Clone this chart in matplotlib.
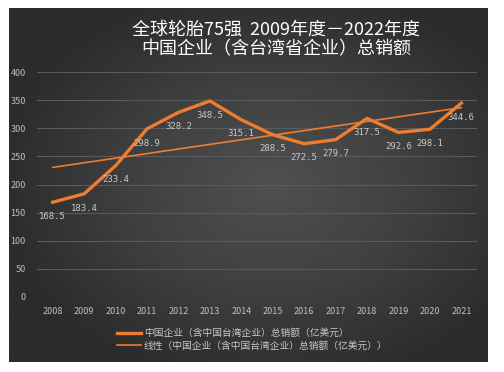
import numpy as np
import matplotlib
matplotlib.use("Agg")
import matplotlib.pyplot as plt
from matplotlib.colors import LinearSegmentedColormap

plt.rcParams['font.family'] = ['Noto Sans CJK SC', 'DejaVu Sans']

years = ['2008', '2009', '2010', '2011', '2012', '2013', '2014', '2015',
         '2016', '2017', '2018', '2019', '2020', '2021']
sales = [168.5, 183.4, 233.4, 298.9, 328.2, 348.5, 315.1, 288.5,
         272.5, 279.7, 317.5, 292.6, 298.1, 344.6]
labels = ['168.5', '183.4', '233.4', '298.9', '328.2', '348.5', '315.1', '288.5',
          '272.5', '279.7', '317.5', '292.6', '298.1', '344.6']
title = '全球轮胎75强  2009年度－2022年度\n中国企业（含台湾省企业）总销额'
series_name = '中国企业（含中国台湾企业）总销额（亿美元）'
trend_name = '线性（中国企业（含中国台湾企业）总销额（亿美元））'
yticks = [0, 50, 100, 150, 200, 250, 300, 350, 400]

fig = plt.figure(figsize=(5.04, 3.72), dpi=100)
fig.patch.set_facecolor('white')

# dark gradient panel
bg = fig.add_axes([9/504, 10/372, 479/504, 354/372])
ny, nx = 200, 270
yy, xx = np.mgrid[0:1:ny*1j, 0:1:nx*1j]
r = np.sqrt(((xx-0.55)/0.9)**2 + ((yy-0.5)/0.9)**2)
cmap = LinearSegmentedColormap.from_list('g', ['#505050', '#404040', '#2b2b2b'])
bg.imshow(r, cmap=cmap, aspect='auto', extent=[0, 1, 0, 1], vmin=0, vmax=0.65)
bg.set_axis_off()

ax = fig.add_axes([37/504, 75/372, 440/504, 225/372])
ax.patch.set_alpha(0)
x = np.arange(len(years))
ax.set_xlim(-0.5, len(years)-0.5)
ax.set_ylim(0, 400)
ax.set_yticks(yticks)
ax.set_xticks(x)
ax.set_xticklabels(years)
ax.grid(axis='y', color='#5a5a5a', linewidth=0.8)
ax.set_axisbelow(True)
for s in ax.spines.values():
    s.set_visible(False)
ax.tick_params(length=0, colors='#bfbfbf', labelsize=6.5, pad=7)
ax.tick_params(axis='y', pad=8)

coef = np.polyfit(x, sales, 1)
trend = np.polyval(coef, x)
l1, = ax.plot(x, sales, color='#ED7D31', linewidth=2.4, solid_joinstyle='round', label=series_name)
l2, = ax.plot(x, trend, color='#ED7D31', linewidth=1.2, label=trend_name)

for xi, v, t in zip(x, sales, labels):
    ax.annotate(t, (xi, v), xytext=(0, -7), textcoords='offset points',
                ha='center', va='top', color='#c8c8c8', fontsize=6.5,
                family='DejaVu Sans Mono')

fig.text(0.548, 0.893, title, ha='center', va='center', color='white',
         fontsize=13, linespacing=1.08)

leg = fig.legend(handles=[l1, l2], loc='center', bbox_to_anchor=(0.5, 0.088),
                 frameon=False, fontsize=7, handlelength=2.5, labelspacing=0.25,
                 handletextpad=0.3)
for t in leg.get_texts():
    t.set_color('#c8c8c8')

fig.savefig('out.png', dpi=100, facecolor='white')
